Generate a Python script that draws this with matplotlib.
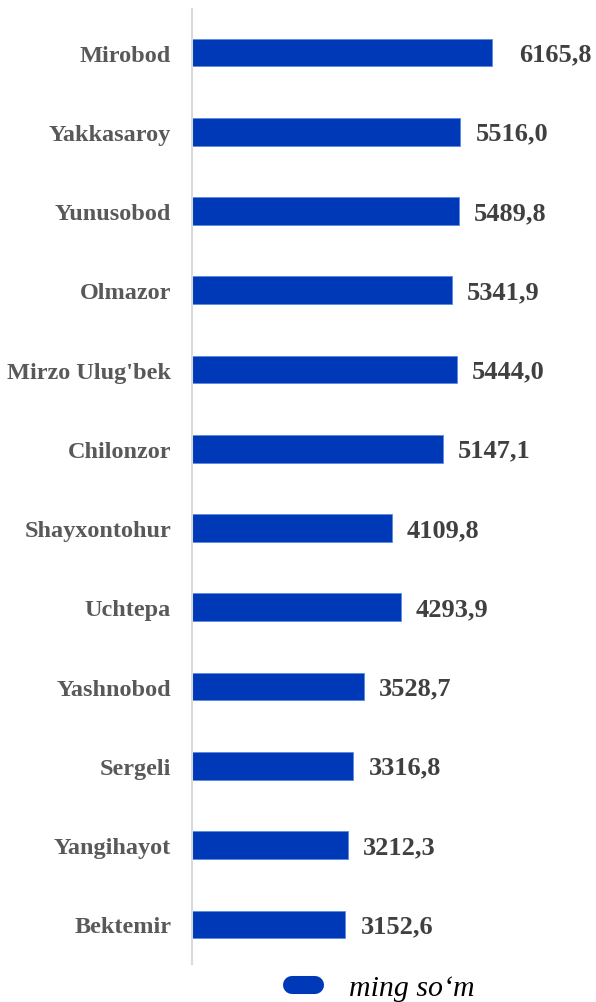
import matplotlib
matplotlib.use("Agg")
import matplotlib.pyplot as plt
from matplotlib.lines import Line2D

districts = ["Mirobod", "Yakkasaroy", "Yunusobod", "Olmazor", "Mirzo Ulug'bek",
             "Chilonzor", "Shayxontohur", "Uchtepa", "Yashnobod", "Sergeli",
             "Yangihayot", "Bektemir"]
values = [6165.8, 5516.0, 5489.8, 5341.9, 5444.0, 5147.1, 4109.8, 4293.9,
          3528.7, 3316.8, 3212.3, 3152.6]
legend_label = "ming so\u2018m"

BAR = "#0039B8"
W, H = 596, 1003
fig = plt.figure(figsize=(W / 100, H / 100), dpi=100)
ax = fig.add_axes([192 / W, 1 - 965 / H, (W - 192) / W, (965 - 10) / H])

y = list(range(len(values)))
ax.barh(y, values, height=0.35, color=BAR, edgecolor="#5b8be0", linewidth=0.6)
ax.set_ylim(len(values) - 0.5, -0.55)
ax.set_xlim(0, 8300)
ax.set_yticks(y)
ax.set_yticklabels(districts, family="Liberation Serif", fontweight="bold",
                   fontsize=17.5, color="#595959")
ax.tick_params(axis="y", length=0, pad=15)
ax.set_xticks([])
for s in ["top", "right", "bottom"]:
    ax.spines[s].set_visible(False)
ax.spines["left"].set_color("#d9d9d9")
ax.spines["left"].set_linewidth(1.5)

for i, v in enumerate(values):
    off = 27 if i == 0 else 15
    ax.annotate(f"{v:.1f}".replace(".", ","), (v, i), xytext=(off * 0.72, -1),
                textcoords="offset points", va="center", ha="left",
                family="Liberation Serif", fontweight="bold", fontsize=19,
                color="#404040")

handle = Line2D([0, 1], [0, 0], color=BAR, linewidth=13, solid_capstyle="round")
fig.legend([handle], [legend_label], loc="center", bbox_to_anchor=(383 / W, 1 - 989 / H),
           frameon=False, handlelength=0.8, handletextpad=1.12,
           prop={"family": "Liberation Serif", "style": "italic", "size": 21.5})

fig.savefig("out.png", dpi=100)
